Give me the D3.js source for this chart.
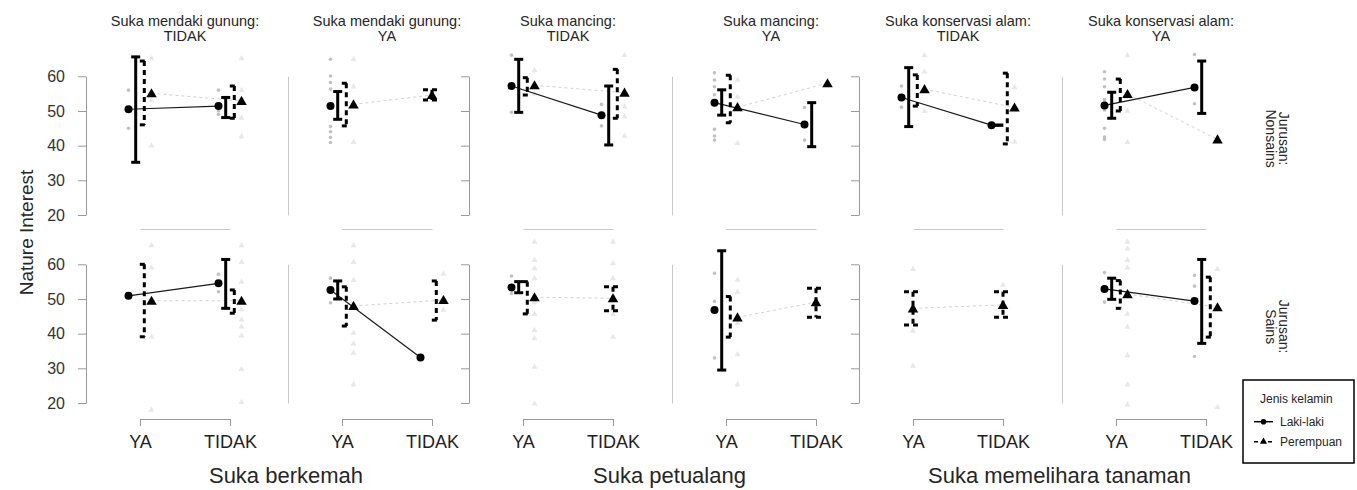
<!DOCTYPE html>
<html>
<head>
<meta charset="utf-8">
<script src="https://cdn.jsdelivr.net/npm/d3@7"></script>
<style>
  body { margin: 0; background: #fff; }
  svg { display: block; font-family: "Liberation Sans", Arial, sans-serif; }
</style>
</head>
<body>
<div id="chart"></div>
<script>
// x levels inside each panel, y ticks, facet labels
const xLevels = ['YA', 'TIDAK'];
const yTicks = [20, 30, 40, 50, 60];
const rowLabels = ['Nonsains', 'Sains'];
const stripVars = ['Suka mendaki gunung', 'Suka mendaki gunung', 'Suka mancing', 'Suka mancing',
  'Suka konservasi alam', 'Suka konservasi alam'];
const stripLevels = ['TIDAK', 'YA', 'TIDAK', 'YA', 'TIDAK', 'YA'];
const xTitles = ['Suka berkemah', 'Suka petualang', 'Suka memelihara tanaman'];
const sexLabels = ['Laki-laki', 'Perempuan'];

// means: [row][panel][YA, TIDAK]  (null = no data)
const lakiMean = [
  [[50.5, 51.4], [51.4, null], [57.2, 48.8], [52.4, 46.1], [53.9, 45.9], [51.6, 56.8]],
  [[50.9, 54.5], [52.6, 33.1], [53.3, null], [46.8, null], [null, null], [52.9, 49.4]]
];
const perempuanMean = [
  [[55.1, 52.9], [51.9, 54.6], [57.4, 55.3], [51.1, 58.0], [56.3, 51.0], [54.9, 41.8]],
  [[49.5, 49.5], [48.0, 49.7], [50.5, 50.2], [44.7, 49.1], [47.3, 48.3], [51.4, 47.6]]
];
// intervals: [row][panel][YA, TIDAK] -> [lo, hi]
const lakiCI = [
  [[[35.2, 65.6], [48.1, 53.9]], [[47.6, 55.6], null], [[49.6, 64.9], [40.2, 57.2]],
   [[48.8, 56.1], [39.7, 52.4]], [[45.5, 62.5], [45.9, 45.9]], [[47.9, 55.4], [49.3, 64.4]]],
  [[null, [47.3, 61.4]], [[50.0, 55.2], null], [[51.8, 55.0], null],
   [[29.5, 63.9], null], [null, null], [[49.9, 56.0], [37.2, 61.4]]]
];
const perempuanCI = [
  [[[46.0, 64.4], [47.9, 57.2]], [[45.7, 58.0], [53.2, 56.1]], [[54.6, 59.6], [47.9, 62.0]],
   [[46.6, 60.3], null], [[51.4, 60.4], [40.5, 60.9]], [[50.0, 59.2], null]],
  [[[39.1, 60.0], [45.9, 52.6]], [[42.2, 53.5], [43.9, 55.2]], [[45.7, 55.0], [46.6, 53.5]],
   [[39.0, 50.7], [44.7, 53.1]], [[42.5, 52.1], [44.7, 52.1]], [[47.3, 55.3], [39.0, 56.3]]]
];
// raw observations: [row][panel][YA, TIDAK]
const lakiRaw = [
  [[[56, 45], [56, 50, 49]], [[64.9, 60.1, 58.2, 56.3, 45.5, 44, 42.4, 40.9], []],
   [[66.1, 49.6], [51.9, 45.7]], [[61, 58.9, 57, 54.7, 52, 44.7, 42.8, 41.6], [51, 41.6]],
   [[57.2, 51.1], [45.9]], [[61.3, 59.2, 57, 53.3, 52.5, 50.3, 45, 42.5, 41.8], [66.3, 52.1]]],
  [[[50.9], [57.1, 52.1]], [[56, 48.9], [33.1]], [[56.6, 51.6], []],
   [[57.4, 49.3, 33], []], [[], []], [[57.6, 49.1], [56.8, 53.7, 33.4]]]
];
const perempuanRaw = [
  [[[65.1, 53, 40], [65.1, 56, 53, 48, 42.6]], [[64.9, 57, 41], [55, 54]],
   [[61.7, 57, 55], [66.1, 51.2, 48.4, 42.8]], [[58.9, 54, 40.7], [58]],
   [[66, 61.3, 49.9], [56.8, 41.1]], [[66, 54, 50, 41], [41.8]]],
  [[[65.4, 59, 39, 18], [65.4, 60.6, 54.9, 47, 44, 42, 39.4, 29.7, 20.2]],
   [[65.4, 60.6, 55.4, 40.2, 37.1, 34.4, 25.3], [57.2, 46.8]],
   [[66.4, 61.2, 58.8, 55.9, 49, 45.7, 41, 38.6, 30.4, 19.8], [66.4, 60.2, 55.9, 47, 45.5, 39]],
   [[55.5, 52, 43, 34, 25.3], [53, 45]], [[58.6, 40.8, 30.7], [54, 48]],
   [[66.4, 64.5, 61.2, 59, 52, 45.7, 41.9, 33.7, 25.3, 19.5], [58.6, 18.8]]]
];

// layout
const W = 1357, H = 490;
const panelLeft = [86, 288, 469, 672, 859, 1062];
const panelW = 198;
const rowShift = [0, 188];
const axisGap = [14, 16];
const pointDodge = 11.5, barDodge = 4.3;
const textCol = '#262626';

const svg = d3.select('#chart').append('svg')
  .attr('width', W).attr('height', H);

const y = d3.scaleLinear().domain([20, 60]).range([215, 76.3]);
const x = d3.scalePoint().domain(xLevels).range([0, panelW]).padding(0.6);
const xCap = d3.scalePoint().domain(xLevels).range([x('YA'), x('TIDAK')]).padding(0);

const means = [lakiMean, perempuanMean];
const cis = [lakiCI, perempuanCI];
const raws = [lakiRaw, perempuanRaw];
const tri = d3.symbol().type(d3.symbolTriangle);

for (let r = 0; r < 2; r++) {
  for (let p = 0; p < 6; p++) {
    const g = svg.append('g')
      .attr('transform', `translate(${panelLeft[p]},${rowShift[r]})`);

    // y axis (first panel of each block gets ticks)
    const ya = g.append('g');
    if (p % 2 === 0) {
      ya.call(d3.axisLeft(y).tickValues(yTicks).tickSize(8).tickSizeOuter(0).tickPadding(13)
        .tickFormat(p === 0 ? d3.format('d') : ''));
      ya.selectAll('path,line').attr('stroke', '#9a9a9a');
    } else {
      ya.call(d3.axisLeft(y).tickValues([]).tickSizeOuter(0));
      ya.selectAll('path').attr('stroke', '#c8c8c8');
    }
    ya.selectAll('text').attr('font-size', 16).attr('fill', '#333')
      .attr('font-family', '"Liberation Sans", Arial, sans-serif');

    // x axis
    const xa = g.append('g').attr('transform', `translate(0,${y(20) + axisGap[r]})`);
    if (r === 1) {
      xa.call(d3.axisBottom(xCap).tickSize(7).tickSizeOuter(0).tickPadding(9));
      xa.selectAll('path,line').attr('stroke', '#9a9a9a');
      xa.selectAll('text').attr('font-size', 18).attr('fill', '#222')
        .attr('font-family', '"Liberation Sans", Arial, sans-serif');
    } else {
      xa.call(d3.axisBottom(xCap).tickValues([]).tickSizeOuter(0));
      xa.selectAll('path').attr('stroke', '#c8c8c8');
    }

    // which groups exist at each x level -> dodge
    const both = xLevels.map((lv, i) => means[0][r][p][i] != null && means[1][r][p][i] != null);
    const px = (s, i) => x(xLevels[i]) + (both[i] ? (s ? 1 : -1) * pointDodge : 0);
    const bx = (s, i) => x(xLevels[i]) + (both[i] ? (s ? 1 : -1) * barDodge : 0);

    // raw observations
    for (let s = 1; s >= 0; s--) {
      xLevels.forEach((lv, i) => {
        raws[s][r][p][i].forEach(v => {
          if (s === 0) {
            g.append('circle').attr('cx', px(s, i)).attr('cy', y(v)).attr('r', 1.8)
              .attr('fill', '#b3b3b3').attr('opacity', 0.8);
          } else {
            g.append('path').attr('d', tri.size(16)())
              .attr('transform', `translate(${px(s, i)},${y(v)})`)
              .attr('fill', '#e8e8e8');
          }
        });
      });
    }

    // mean connecting lines
    for (let s = 1; s >= 0; s--) {
      const m = means[s][r][p];
      if (m[0] == null || m[1] == null) continue;
      const line = d3.line().x(d => d[0]).y(d => y(d[1]));
      g.append('path')
        .attr('d', line([[px(s, 0), m[0]], [px(s, 1), m[1]]]))
        .attr('fill', 'none')
        .attr('stroke', s ? '#d2d2d2' : '#1a1a1a')
        .attr('stroke-width', s ? 1 : 1.2)
        .attr('stroke-dasharray', s ? '3,3' : null);
    }

    // error bars
    for (let s = 0; s < 2; s++) {
      xLevels.forEach((lv, i) => {
        const ci = cis[s][r][p][i];
        if (!ci) return;
        const cx = bx(s, i);
        const hw = both[i] ? 4.5 : 9;
        const dash = s ? '5,4' : null;
        const eb = g.append('g').attr('stroke', '#000').attr('stroke-width', 3)
          .attr('stroke-dasharray', dash).attr('fill', 'none');
        eb.append('line').attr('x1', cx).attr('x2', cx).attr('y1', y(ci[1])).attr('y2', y(ci[0]));
        eb.append('line').attr('x1', cx - hw).attr('x2', cx + hw).attr('y1', y(ci[1])).attr('y2', y(ci[1]));
        eb.append('line').attr('x1', cx - hw).attr('x2', cx + hw).attr('y1', y(ci[0])).attr('y2', y(ci[0]));
      });
    }

    // mean points
    for (let s = 0; s < 2; s++) {
      xLevels.forEach((lv, i) => {
        const v = means[s][r][p][i];
        if (v == null) return;
        if (s === 0) {
          g.append('circle').attr('cx', px(s, i)).attr('cy', y(v)).attr('r', 4).attr('fill', '#000');
        } else {
          g.append('path').attr('d', tri.size(48)())
            .attr('transform', `translate(${px(s, i)},${y(v) + 1})`).attr('fill', '#000');
        }
      });
    }

    // column strip
    if (r === 0) {
      const st = svg.append('text')
        .attr('x', panelLeft[p] + panelW / 2).attr('y', 26)
        .attr('text-anchor', 'middle').attr('font-size', 14.5).attr('fill', textCol);
      st.append('tspan').attr('x', panelLeft[p] + panelW / 2).text(stripVars[p] + ':');
      st.append('tspan').attr('x', panelLeft[p] + panelW / 2).attr('dy', 15).text(stripLevels[p]);
    }
  }

  // row strip (right side)
  const rs = svg.append('text')
    .attr('transform', `translate(1279,${(y(20) + 14 + y(60) - 28) / 2 + rowShift[r]}) rotate(90)`)
    .attr('text-anchor', 'middle').attr('font-size', 14).attr('fill', textCol);
  rs.append('tspan').attr('x', 0).attr('y', 0).text('Jurusan:');
  rs.append('tspan').attr('x', 0).attr('dy', 13.5).text(rowLabels[r]);
}

// x titles
xTitles.forEach((t, k) => {
  const cx = (panelLeft[2 * k] + x('YA') + panelLeft[2 * k + 1] + x('TIDAK')) / 2;
  svg.append('text').attr('x', cx).attr('y', 483)
    .attr('text-anchor', 'middle').attr('font-size', 22).attr('fill', textCol).text(t);
});

// y title
svg.append('text')
  .attr('transform', 'translate(33,232.5) rotate(-90)')
  .attr('text-anchor', 'middle').attr('font-size', 19).attr('fill', textCol)
  .text('Nature Interest');

// legend
const lg = svg.append('g').attr('transform', 'translate(1243,380)');
lg.append('rect').attr('width', 111).attr('height', 83)
  .attr('fill', '#fff').attr('stroke', '#000').attr('stroke-width', 1.5);
lg.append('text').attr('x', 17).attr('y', 23).attr('font-size', 12).attr('fill', textCol)
  .text('Jenis kelamin');
sexLabels.forEach((lab, s) => {
  const ey = 41.7 + s * 20;
  lg.append('line').attr('x1', 11).attr('x2', 30).attr('y1', ey).attr('y2', ey)
    .attr('stroke', '#000').attr('stroke-width', s ? 1.5 : 1.5)
    .attr('stroke-dasharray', s ? '4,3' : null);
  if (s === 0) {
    lg.append('circle').attr('cx', 20.5).attr('cy', ey).attr('r', 2.8).attr('fill', '#000');
  } else {
    lg.append('path').attr('d', tri.size(22)()).attr('transform', `translate(20.5,${ey})`)
      .attr('fill', '#000');
  }
  lg.append('text').attr('x', 37).attr('y', ey + 4).attr('font-size', 12).attr('fill', textCol)
    .text(lab);
});
</script>
</body>
</html>
